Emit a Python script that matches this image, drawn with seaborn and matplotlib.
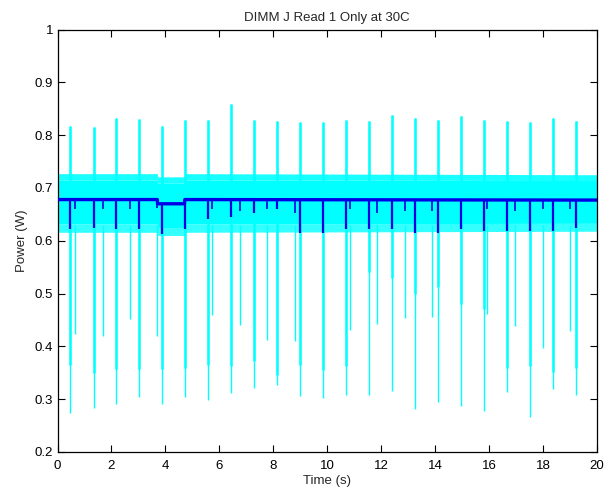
import numpy as np
import pandas as pd
import matplotlib
matplotlib.use("Agg")
import matplotlib.pyplot as plt
import seaborn as sns

sns.set_style("ticks")
plt.rcParams['font.family'] = ['Liberation Sans', 'DejaVu Sans']

title = "DIMM J Read 1 Only at 30C"
xlabel = "Time (s)"
ylabel = "Power (W)"
x_ticks = [0, 2, 4, 6, 8, 10, 12, 14, 16, 18, 20]
y_ticks = [0.2, 0.3, 0.4, 0.5, 0.6, 0.7, 0.8, 0.9, 1.0]
y_tick_labels = ["0.2", "0.3", "0.4", "0.5", "0.6", "0.7", "0.8", "0.9", "1"]

# main periodic events (cyan spike up and down, blue dip)
main_t = [0.47, 1.34, 2.18, 3.02, 3.87, 4.71, 5.58, 6.42, 7.30, 8.13, 8.98, 9.84,
          10.69, 11.54, 12.39, 13.25, 14.10, 14.94, 15.81, 16.65, 17.50, 18.37, 19.22]
main_peak = [0.818, 0.816, 0.833, 0.831, 0.818, 0.829, 0.829, 0.859, 0.829, 0.827, 0.825, 0.825,
             0.829, 0.826, 0.838, 0.833, 0.829, 0.837, 0.829, 0.827, 0.825, 0.833, 0.827]
main_min = [0.273, 0.284, 0.290, 0.304, 0.290, 0.305, 0.298, 0.312, 0.321, 0.326, 0.306, 0.303,
            0.307, 0.307, 0.316, 0.281, 0.295, 0.287, 0.278, 0.314, 0.267, 0.320, 0.308]
# depth reached by the thick part of each down spike
main_mid = [0.365, 0.350, 0.357, 0.357, 0.357, 0.360, 0.365, 0.362, 0.372, 0.346, 0.365, 0.355,
            0.362, 0.541, 0.530, 0.500, 0.512, 0.480, 0.470, 0.360, 0.362, 0.352, 0.360]
main_blue_dip = [0.622, 0.625, 0.622, 0.622, 0.613, 0.622, 0.641, 0.645, 0.653, 0.660, 0.615, 0.615,
                 0.622, 0.622, 0.622, 0.615, 0.615, 0.622, 0.618, 0.618, 0.618, 0.618, 0.625]

# secondary events
sec_t = [0.64, 1.68, 2.67, 3.70, 5.74, 6.75, 7.78, 8.80,
         10.83, 11.86, 12.88, 13.90, 15.93, 16.96, 17.98, 19.00]
sec_min = [0.423, 0.419, 0.451, 0.420, 0.460, 0.440, 0.412, 0.411,
           0.431, 0.442, 0.453, 0.455, 0.461, 0.439, 0.397, 0.430]
sec_blue_dip = [0.660, 0.660, 0.660, 0.662, 0.660, 0.656, 0.660, 0.653,
                0.660, 0.653, 0.656, 0.656, 0.660, 0.656, 0.660, 0.660]

# noise band envelope of the cyan signal
band_t = [0, 3.70, 3.72, 4.71, 4.73, 20]
band_top_outer = [0.727, 0.727, 0.721, 0.721, 0.727, 0.725]
band_top_inner = [0.715, 0.715, 0.709, 0.709, 0.715, 0.714]
band_bot_inner = [0.632, 0.632, 0.625, 0.625, 0.632, 0.633]
band_bot_outer = [0.616, 0.616, 0.610, 0.610, 0.616, 0.618]

# blue (averaged) level
blue_t = [0, 3.70, 3.71, 4.71, 4.72, 20]
blue_level = [0.678, 0.678, 0.670, 0.670, 0.678, 0.677]

CYAN = "#00ffff"
BLUE = "#0000e6"

fig = plt.figure(figsize=(6.13, 4.92), dpi=100)
ax = fig.add_axes([57.5 / 613, 1 - 452 / 492, (597 - 57.5) / 613, (452 - 29.5) / 492])

# cyan band
ax.fill_between(band_t, band_bot_inner, band_top_inner, color=CYAN, lw=0, zorder=1)
ax.fill_between(band_t, band_top_inner, band_top_outer, color=CYAN, alpha=0.9, lw=0, zorder=1)
ax.fill_between(band_t, band_bot_outer, band_bot_inner, color=CYAN, alpha=0.8, lw=0, zorder=1)

# cyan spikes
ax.vlines(main_t, main_min, main_peak, color=CYAN, lw=1.0, zorder=2)
ax.vlines(main_t, main_mid, main_peak, color=CYAN, lw=1.8, zorder=2)
ax.vlines(sec_t, sec_min, [0.63] * len(sec_t), color=CYAN, lw=1.0, zorder=2)

# blue averaged line
df_blue = pd.DataFrame({"t": blue_t, "p": blue_level})
sns.lineplot(data=df_blue, x="t", y="p", color=BLUE, lw=2.4, ax=ax, zorder=3)
blue_main_top = np.interp(main_t, blue_t, blue_level)
blue_sec_top = np.interp(sec_t, blue_t, blue_level)
ax.vlines(main_t, main_blue_dip, blue_main_top, color=BLUE, lw=1.6, zorder=3)
ax.vlines(sec_t, sec_blue_dip, blue_sec_top, color=BLUE, lw=1.2, zorder=3)

ax.set_xlim(0, 20)
ax.set_ylim(0.2, 1.0)
ax.set_xticks(x_ticks)
ax.set_xticklabels([str(v) for v in x_ticks])
ax.set_yticks(y_ticks)
ax.set_yticklabels(y_tick_labels)
ax.tick_params(direction="in", length=5, width=0.8, top=True, right=True,
               labelsize=9.5, colors="black")
ax.tick_params(axis="x", pad=6)
ax.tick_params(axis="y", pad=3)
for s in ax.spines.values():
    s.set_visible(True)
    s.set_linewidth(0.9)
    s.set_color("black")
ax.set_xlabel(xlabel, fontsize=9.5, labelpad=2)
ax.set_ylabel(ylabel, fontsize=9.5, labelpad=5)
ax.set_title(title, fontsize=9.5, pad=6)

fig.savefig("out.png", dpi=100)
